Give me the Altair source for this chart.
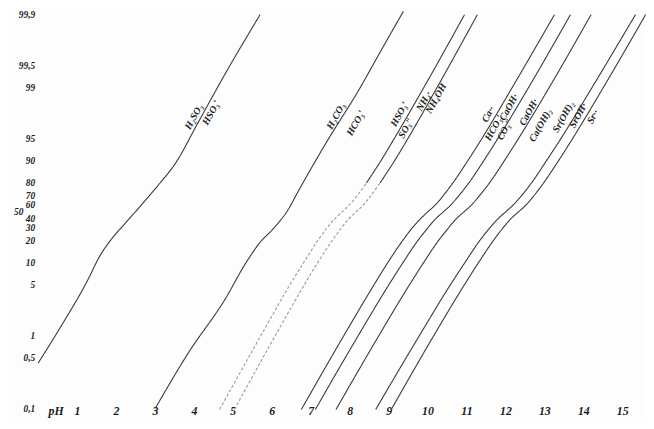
import altair as alt
import pandas as pd

# ---- axis text -------------------------------------------------------------
Y_TICKS = [0.1, 0.5, 1, 5, 10, 20, 30, 40, 50, 60, 70, 80, 90, 95, 99, 99.5, 99.9]
Y_LABELS = ["0,1", "0,5", "1", "5", "10", "20", "30", "40", "50", "60", "70",
            "80", "90", "95", "99", "99,5", "99,9"]
X_TICKS = [0.45, 1, 2, 3, 4, 5, 6, 7, 8, 9, 10, 11, 12, 13, 14, 15]

# ---- curves (pH, percent) --------------------------------------------------
LEVELS = [0.1, 1, 5, 10, 20, 30, 40, 50, 60, 70, 80, 90, 95, 99, 99.9]

a_ph = [0.0, 0.55, 1.31, 1.56, 1.87, 2.20, 2.58, 3.08, 3.52, 4.10, 4.86, 5.70]
a_pct = [0.43, 1.27, 6.4, 11.9, 20.9, 33.4, 55.8, 78.4, 89.1, 96.96, 99.43, 99.90]

b_ph = [3.01, 3.85, 4.81, 5.32, 5.67, 6.08, 6.43, 6.64, 7.40, 8.24, 8.82, 9.38]
b_pct = [0.104, 0.585, 3.27, 9.8, 18.4, 31.3, 54.5, 71.6, 94.4, 98.94, 99.70, 99.91]

c_ph = [4.66, 5.71, 6.46, 6.81, 7.17, 7.41, 7.61, 7.80, 7.99, 8.19, 8.43, 8.80, 9.14, 9.90, 10.95]
d_ph = [5.04, 6.08, 6.83, 7.17, 7.54, 7.78, 7.97, 8.16, 8.35, 8.54, 8.78, 9.15, 9.49, 10.24, 11.28]
e_ph = [6.76, 7.84, 8.62, 8.97, 9.35, 9.60, 9.81, 10.00, 10.20, 10.40, 10.65, 11.03, 11.39, 12.17, 13.26]
f_ph = [7.12, 8.21, 9.00, 9.36, 9.74, 10.00, 10.20, 10.40, 10.60, 10.80, 11.06, 11.44, 11.80, 12.59, 13.67]
g_ph = [7.65, 8.74, 9.53, 9.89, 10.27, 10.53, 10.73, 10.93, 11.13, 11.33, 11.59, 11.97, 12.33, 13.12, 14.20]
h_ph = [8.67, 9.78, 10.58, 10.95, 11.33, 11.59, 11.80, 12.00, 12.20, 12.41, 12.67, 13.05, 13.42, 14.22, 15.34]
i_ph = [9.07, 10.15, 10.94, 11.30, 11.68, 11.93, 12.13, 12.33, 12.53, 12.73, 12.98, 13.36, 13.72, 14.51, 15.60]

# ---- species labels written along the curves -------------------------------
lab_text = ["H₂SO₃", "HSO₃′", "H₂CO₃", "HCO₃′", "HSO₃′", "SO₃″", "NH₄·", "NH₄OH",
            "Ca··", "HCO₃′", "CO₃″", "CaOH·", "CaOH·", "Ca(OH)₂",
            "Sr(OH)₂", "SrOH·", "Sr··"]
lab_ph = [4.00, 4.45, 7.65, 8.16, 9.28, 9.45, 9.91, 10.22,
          11.56, 11.71, 11.99, 12.09, 12.60, 12.90,
          13.49, 13.87, 14.25]
lab_pct = [97.5, 97.8, 97.55, 96.96, 97.7, 96.45, 98.47, 98.6,
           97.7, 96.45, 96.3, 98.15, 97.84, 96.76,
           97.5, 97.6, 97.5]

# ---- tables -----------------------------------------------------------------
# the lower parts of the two sulphite / ammonium curves are faint and broken
curves = [
    ("A", a_ph, a_pct, "solid"),
    ("B", b_ph, b_pct, "solid"),
    ("C1", c_ph[:11], LEVELS[:11], "faint"),
    ("C2", c_ph[10:], LEVELS[10:], "solid"),
    ("D1", d_ph[:11], LEVELS[:11], "faint"),
    ("D2", d_ph[10:], LEVELS[10:], "solid"),
    ("E", e_ph, LEVELS, "solid"),
    ("F", f_ph, LEVELS, "solid"),
    ("G", g_ph, LEVELS, "solid"),
    ("H", h_ph, LEVELS, "solid"),
    ("I", i_ph, LEVELS, "solid"),
]
rows = []
for name, phs, pcts, style in curves:
    for k, (x, p) in enumerate(zip(phs, pcts)):
        rows.append({"curve": name, "ph": x, "pct": p, "order": k, "style": style})
df = pd.DataFrame(rows)

df_lab = pd.DataFrame({"text": lab_text, "ph": lab_ph, "pct": lab_pct})
df_y = pd.DataFrame({"pct": Y_TICKS, "label": Y_LABELS})

# piecewise-log probability ordinate (decades away from 50 %)
T = "datum.pct < 50 ? log(datum.pct / 50) / LN10 : -log((100 - datum.pct) / 50) / LN10"

FONT = "Liberation Serif"
INK = "#1c1c1c"

x_scale = alt.Scale(domain=[0, 15.61], nice=False, zero=False)
y_scale = alt.Scale(domain=[-2.703, 2.730], nice=False, zero=False)

lines = alt.Chart(df).transform_calculate(t=T).mark_line(
    strokeWidth=1.1, clip=False, interpolate="monotone"
).encode(
    x=alt.X("ph:Q", scale=x_scale,
            axis=alt.Axis(values=X_TICKS,
                          labelExpr="datum.value < 1 ? 'рН' : format(datum.value, 'd')",
                          grid=False, domain=False, ticks=False, labelPadding=-4,
                          labelFont=FONT, labelFontSize=12, labelFontStyle="italic",
                          labelFontWeight="bold", labelColor=INK, title=None,
                          labelOverlap=False)),
    y=alt.Y("t:Q", scale=y_scale, axis=None),
    detail="curve:N",
    order="order:Q",
    color=alt.Color("style:N", legend=None,
                    scale=alt.Scale(domain=["solid", "faint"], range=["#3a3a3a", "#9a9a9a"])),
    strokeDash=alt.StrokeDash("style:N", legend=None,
                              scale=alt.Scale(domain=["solid", "faint"], range=[[1, 0], [3, 2]])),
)

labels = alt.Chart(df_lab).transform_calculate(t=T).mark_text(
    angle=299, font=FONT, fontSize=10, fontStyle="italic", fontWeight="bold",
    color=INK, clip=False
).encode(
    x=alt.X("ph:Q", scale=x_scale),
    y=alt.Y("t:Q", scale=y_scale),
    text="text:N",
)

ylab = alt.Chart(df_y).transform_calculate(t=T).transform_filter(
    "datum.label != '50'"
).mark_text(
    align="right", baseline="middle", dx=-3, font=FONT, fontSize=9.5,
    fontStyle="italic", fontWeight="bold", color=INK, clip=False
).encode(
    x=alt.datum(0),
    y=alt.Y("t:Q", scale=y_scale),
    text="label:N",
)

ylab50 = alt.Chart(df_y).transform_calculate(t=T).transform_filter(
    "datum.label == '50'"
).mark_text(
    align="right", baseline="middle", dx=-15, font=FONT, fontSize=9.5,
    fontStyle="italic", fontWeight="bold", color=INK, clip=False
).encode(
    x=alt.datum(0),
    y=alt.Y("t:Q", scale=y_scale),
    text="label:N",
)

chart = alt.layer(lines, labels, ylab, ylab50).properties(
    width=615, height=402,
    padding={"left": 30.5, "top": 2, "right": 0, "bottom": 10},
    autosize=alt.AutoSizeParams(type="none"),
    background="#fdfdfd",
).configure_view(stroke=None)

chart.save("out.html", embed_options={"renderer": "svg", "actions": False})
